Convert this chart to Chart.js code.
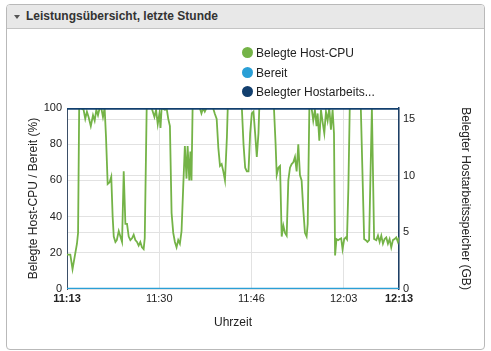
<!DOCTYPE html>
<html lang="de">
<head>
  <meta charset="UTF-8" />
  <title>Leistungsübersicht, letzte Stunde</title>
  <style>
    body {
      margin: 0;
      background: #fff;
      font-family: "Liberation Sans", Arial, sans-serif;
      color: #222;
    }
    .panel {
      position: absolute;
      left: 6px;
      top: 4px;
      width: 477px;
      height: 344px;
      border: 1px solid #b9b9b9;
      border-radius: 4px;
      overflow: hidden;
    }
    .panel-head {
      position: relative;
      height: 23px;
      background: #e8e8e8;
      border-bottom: 1px solid #c4c4c4;
      font-size: 12px;
      font-weight: bold;
      line-height: 23px;
      padding-left: 19px;
      color: #333;
    }
    .panel-head .arrow {
      position: absolute;
      left: 7px;
      top: 10px;
      width: 0;
      height: 0;
      border-left: 3px solid transparent;
      border-right: 3px solid transparent;
      border-top: 4px solid #555;
    }
    .chart-box {
      position: absolute;
      left: 0;
      top: 24px;
      width: 476px;
      height: 319px;
    }
    #legend {
      position: absolute;
      left: 235px;
      top: 15px;
      font-size: 12px;
      color: #222;
    }
    #legend .item {
      height: 19.5px;
      line-height: 19.5px;
      white-space: nowrap;
    }
    #legend .dot {
      display: inline-block;
      width: 11px;
      height: 11px;
      border-radius: 50%;
      margin-right: 3px;
      vertical-align: -1px;
    }
  </style>
</head>
<body>
  <div class="panel">
    <div class="panel-head"><span class="arrow"></span>Leistungsübersicht, letzte Stunde</div>
    <div class="chart-box">
      <canvas id="chart"></canvas>
      <div id="legend"></div>
    </div>
  </div>

  <script src="https://cdn.jsdelivr.net/npm/chart.js"></script>
  <script>
    // Minuten seit 11:13
    const cpuTimes = [
      0, 0.6, 1.0, 1.4, 1.8, 2.0, 2.2, 2.5, 3.0, 3.3, 3.6, 3.9, 4.3, 4.7, 5.0, 5.3, 5.6, 5.9, 6.2, 6.5, 6.8,
      7.05, 7.35, 7.7, 8.0, 8.25, 8.45, 8.75, 9.0, 9.35, 9.65, 9.95, 10.25, 10.55, 10.85, 11.15, 11.45, 11.75,
      12.05, 12.35, 12.65, 12.95, 13.25, 13.55, 13.85, 14.05, 14.4, 15.3, 15.8, 16.1, 16.4, 16.7, 16.9, 17.1,
      17.7, 18.0, 18.3, 18.6, 18.9, 19.2, 19.5, 19.8, 20.1, 20.4, 20.7, 21.0, 21.3, 21.6, 21.8, 22.1, 22.3,
      22.5, 22.7, 24.0, 24.3, 24.6, 24.9, 25.2, 26.4, 26.7, 27.05, 27.35, 27.65, 27.95, 28.25, 28.55, 28.9,
      29.05, 31.6, 31.9, 32.2, 32.5, 32.8, 33.1, 33.4, 33.7, 34.0, 34.3, 34.6, 34.75, 37.4, 37.7, 37.9, 38.2,
      38.5, 38.8, 39.1, 39.4, 39.7, 40.0, 40.3, 40.6, 40.9, 41.2, 41.5, 41.8, 42.1, 42.4, 42.7, 43.0, 43.3,
      43.5, 43.8, 44.2, 44.5, 44.8, 45.1, 45.3, 45.6, 45.9, 46.2, 46.5, 46.8, 47.1, 47.4, 47.7, 48.0, 48.25,
      48.45, 48.7, 49.0, 49.3, 49.55, 49.8, 50.1, 50.4, 50.6, 50.85, 51.1, 53.1, 53.7, 54.0, 54.3, 54.6, 55.1,
      55.5, 55.9, 56.2, 56.5, 56.8, 57.1, 57.4, 57.7, 58.0, 58.3, 58.6, 58.9, 59.2, 59.5, 59.8, 60
    ];
    const cpuValues = [
      19, 19, 11, 18, 25, 31, 100, 100, 99, 94, 98, 95, 90, 96, 93, 99, 96, 100, 100, 95, 100,
      84, 58, 59, 62, 40, 29, 26, 27, 32, 29, 26, 65, 36, 36, 29, 27, 28,
      30, 27, 26, 24, 26, 23, 22, 28, 100, 100, 95, 99, 91, 97, 89, 100,
      99, 100, 94, 90, 42, 31, 26, 23, 27, 25, 32, 56, 79, 61, 79, 60, 76,
      60, 100, 100, 97, 100, 98, 100, 100, 97, 94, 78, 68, 69, 65, 60, 84,
      100, 100, 80, 67, 65, 65, 86, 97, 98, 86, 73, 86, 100, 100, 80, 63, 67,
      68, 29, 35, 31, 29.5, 60, 67, 69, 70, 73, 65, 80, 63, 60, 44, 31, 29,
      36, 100, 100, 93, 99, 90, 97, 82, 99, 92, 86, 98, 93, 100, 88, 99, 86,
      18.5, 27.6, 27, 27.6, 28, 22, 27.6, 28.5, 27.5, 56, 100, 100, 27.6, 27, 26, 27, 100,
      27.6, 27, 29.5, 26, 29.5, 25, 27.6, 28.5, 25, 27.6, 23, 27, 27.6, 28.5, 26, 28.5
    ];
    const readyTimes = [0, 15, 30, 45, 60];
    const readyValues = [0, 0, 0, 0, 0];
    const memTimes = [0, 15, 30, 45, 60];
    const memValues = [15.95, 15.95, 15.95, 15.95, 15.95];

    const timeTicks = [0, 16.67, 33.33, 50, 60];
    const timeLabels = ['11:13', '11:30', '11:46', '12:03', '12:13'];
    const pctTicks = [0, 20, 40, 60, 80, 100];
    const gbTicks = [0, 5, 10, 15];

    const toPoints = (xs, ys) => xs.map((x, i) => ({ x: x, y: ys[i] }));
    const gridColor = '#e2e2e2';

    Chart.defaults.font.family = '"Liberation Sans", Arial, sans-serif';
    Chart.defaults.color = '#222';

    const chart = new Chart(document.getElementById('chart'), {
      type: 'line',
      data: {
        datasets: [
          {
            label: 'Belegte Host-CPU',
            data: toPoints(cpuTimes, cpuValues),
            borderColor: '#74b347',
            backgroundColor: '#74b347',
            borderWidth: 1.8,
            yAxisID: 'y',
            order: 3
          },
          {
            label: 'Bereit',
            data: toPoints(readyTimes, readyValues),
            borderColor: '#2a9fd6',
            backgroundColor: '#2a9fd6',
            borderWidth: 2.5,
            yAxisID: 'y',
            order: 2
          },
          {
            label: 'Belegter Hostarbeitsspeicher',
            data: toPoints(memTimes, memValues),
            borderColor: '#123f6e',
            backgroundColor: '#123f6e',
            borderWidth: 2.5,
            yAxisID: 'y1',
            order: 1
          }
        ]
      },
      options: {
        responsive: true,
        maintainAspectRatio: false,
        animation: false,
        layout: { padding: { top: 79, left: 0, right: 0, bottom: 0 } },
        elements: { point: { radius: 0 }, line: { tension: 0 } },
        plugins: {
          legend: { display: false },
          tooltip: { enabled: false }
        },
        scales: {
          x: {
            type: 'linear',
            min: 0,
            max: 60,
            afterBuildTicks: (s) => { s.ticks = timeTicks.map(v => ({ value: v })); },
            afterFit: (s) => { s.height = 59; },
            ticks: {
              autoSkip: false,
              maxRotation: 0,
              padding: 3,
              color: '#222',
              callback: (v, i) => timeLabels[i],
              font: (c) => ({
                size: 11,
                weight: (c.index === 0 || c.index === timeTicks.length - 1) ? 'bold' : 'normal'
              })
            },
            grid: { color: gridColor, drawTicks: false },
            border: { display: false },
            title: {
              display: true,
              text: 'Uhrzeit',
              color: '#222',
              font: { size: 12 },
              padding: { top: 0, bottom: 18 }
            }
          },
          y: {
            position: 'left',
            min: 0,
            max: 100,
            afterBuildTicks: (s) => { s.ticks = pctTicks.map(v => ({ value: v })); },
            afterFit: (s) => { s.width = 60; },
            ticks: { padding: 5, color: '#222', font: { size: 11 } },
            grid: { color: gridColor, drawTicks: false },
            border: { color: '#3b4f68', width: 1 },
            title: {
              display: true,
              text: 'Belegte Host-CPU / Bereit (%)',
              color: '#222',
              font: { size: 12 },
              padding: { top: 19, bottom: 0 }
            }
          },
          y1: {
            position: 'right',
            min: 0,
            max: 16,
            afterBuildTicks: (s) => { s.ticks = gbTicks.map(v => ({ value: v })); },
            afterFit: (s) => { s.width = 84; },
            ticks: { padding: 4, color: '#222', font: { size: 11 } },
            grid: { color: gridColor, drawTicks: false },
            border: { color: '#1d3f66', width: 1.5 },
            title: {
              display: true,
              text: 'Belegter Hostarbeitsspeicher (GB)',
              color: '#222',
              font: { size: 12 },
              padding: { top: 10, bottom: 0 }
            }
          }
        }
      }
    });

    // HTML-Legende, untereinander wie im Original
    function shortLabel(text) {
      return text.length > 20 ? text.slice(0, 20) + '...' : text;
    }
    const legendDiv = document.getElementById('legend');
    chart.data.datasets.forEach((ds) => {
      const item = document.createElement('div');
      item.className = 'item';
      const dot = document.createElement('span');
      dot.className = 'dot';
      dot.style.background = ds.borderColor;
      const label = document.createElement('span');
      label.textContent = shortLabel(ds.label);
      item.appendChild(dot);
      item.appendChild(label);
      legendDiv.appendChild(item);
    });
  </script>
</body>
</html>
